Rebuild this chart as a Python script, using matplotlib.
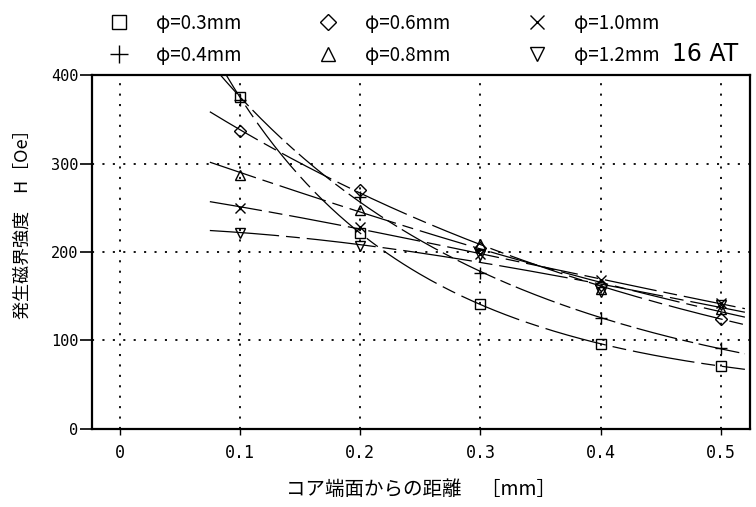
import numpy as np
import matplotlib
matplotlib.use("Agg")
import matplotlib.pyplot as plt

plt.rcParams['font.family'] = ['Noto Sans CJK JP', 'DejaVu Sans']
plt.rcParams['lines.scale_dashes'] = False

# distance from core end face [mm]
x = [0.1, 0.2, 0.3, 0.4, 0.5]

# generated field H [Oe] for each wire diameter
h_03 = [375, 221, 141, 96, 71]
h_04 = [372, 262, 176, 125, 91]
h_06 = [337, 270, 205, 163, 124]
h_08 = [287, 248, 209, 158, 135]
h_10 = [250, 228, 198, 168, 142]
h_12 = [221, 207, 197, 155, 140]

labels = ['φ=0.3mm', 'φ=0.4mm', 'φ=0.6mm', 'φ=0.8mm', 'φ=1.0mm', 'φ=1.2mm']
series = [h_03, h_04, h_06, h_08, h_10, h_12]
markers = ['s', '+', 'D', '^', 'x', 'v']
msizes = [7, 9, 6, 7, 7, 7]
dashes = [(45, 5, 10, 5), (30, 4, 8, 4), (40, 5, 10, 5),
          (35, 5, 8, 5), (38, 5, 10, 5), (50, 5, 10, 5)]

xticks = [0, 0.1, 0.2, 0.3, 0.4, 0.5]
yticks = [0, 100, 200, 300, 400]

fig = plt.figure(figsize=(7.56, 5.07), dpi=100)
ax = fig.add_axes([0.1217, 0.154, 0.870, 0.698])

xs = np.linspace(0.075, 0.52, 200)
handles = []
for y, lab, m, ms, d in zip(series, labels, markers, msizes, dashes):
    # smooth fitted curve (quadratic in log space)
    c = np.polyfit(x, np.log(y), 2)
    ln, = ax.plot(xs, np.exp(np.polyval(c, xs)), color='black', lw=0.9)
    ln.set_dashes(d)
    h, = ax.plot(x, y, ls='none', marker=m, ms=ms, mfc='none', mec='black',
                 mew=1.0, label=lab)
    handles.append(h)

ax.set_xlim(-0.023, 0.524)
ax.set_ylim(0, 400)
ax.set_xticks(xticks)
ax.set_xticklabels(['0', '0.1', '0.2', '0.3', '0.4', '0.5'],
                   family='DejaVu Sans Mono', fontsize=12)
ax.set_yticks(yticks)
ax.set_yticklabels([str(v) for v in yticks], family='DejaVu Sans Mono', fontsize=11)
ax.tick_params(axis='y', direction='out', length=9, width=1.2, pad=1)
ax.tick_params(axis='x', direction='out', length=4.5, width=1.0, pad=6)
ax.grid(True, color='black', lw=1.3, linestyle=(0, (1.5, 6)))
for s in ax.spines.values():
    s.set_linewidth(1.6)

ax.set_xlabel('コア端面からの距離　［mm］', fontsize=14)
ax.xaxis.label.set_va('center')
ax.xaxis.set_label_coords(0.5, -0.172)
ax.set_ylabel('発生磁界強度　H［Oe］', fontsize=13)
ax.yaxis.label.set_va('center')
ax.yaxis.set_label_coords(-0.106, 0.59)

fig.legend(handles=handles, ncol=3, loc='upper left',
           bbox_to_anchor=(0.127, 0.997), frameon=False, fontsize=13.5,
           handlelength=1.2, handletextpad=1.4, columnspacing=4.0,
           labelspacing=0.6, markerscale=1.4, borderaxespad=0.2)
fig.text(0.889, 0.893, '16 AT', family='DejaVu Sans', fontsize=17,
         ha='left', va='center')

fig.savefig('out.png', dpi=100)
